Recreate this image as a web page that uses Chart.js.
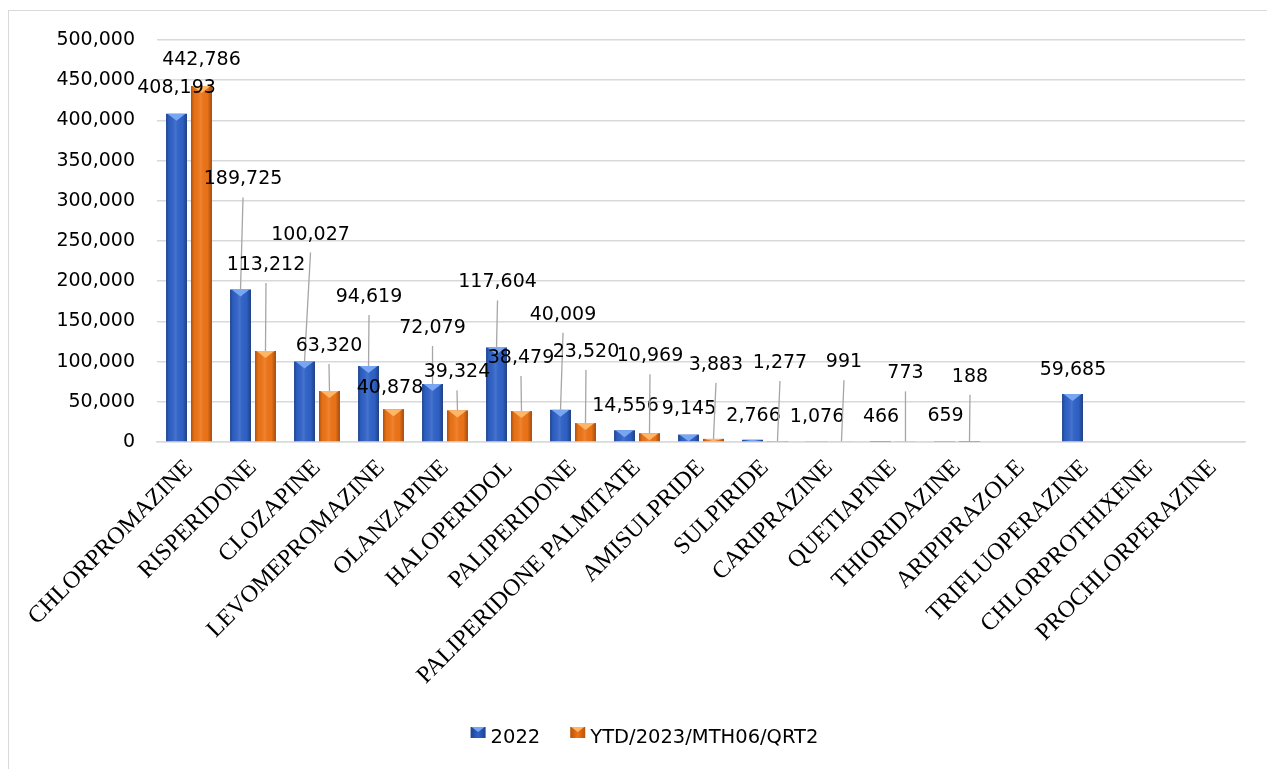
<!DOCTYPE html>
<html><head><meta charset="utf-8">
<script src="https://cdn.jsdelivr.net/npm/chart.js@4.4.1/dist/chart.umd.min.js"></script>
<style>
html,body{margin:0;padding:0;background:#fff;overflow:hidden;}
#frame{position:absolute;left:8px;top:10px;width:1270px;height:770px;border:1px solid #d9d9d9;box-sizing:border-box;}
#wrap{position:absolute;left:0;top:0;width:1267px;height:769px;}
</style></head><body>
<div id="frame"></div>
<div id="wrap"><canvas id="c" width="1267" height="769"></canvas></div>
<script>
const categories = ['CHLORPROMAZINE','RISPERIDONE','CLOZAPINE','LEVOMEPROMAZINE','OLANZAPINE','HALOPERIDOL','PALIPERIDONE','PALIPERIDONE PALMITATE','AMISULPRIDE','SULPIRIDE','CARIPRAZINE','QUETIAPINE','THIORIDAZINE','ARIPIPRAZOLE','TRIFLUOPERAZINE','CHLORPROTHIXENE','PROCHLORPERAZINE'];
const series2022 = [408193,189725,100027,94619,72079,117604,40009,14556,9145,2766,1076,466,659,null,59685,null,null];
const seriesYTD = [442786,113212,63320,40878,39324,38479,23520,10969,3883,1277,991,773,188,null,null,null,null];
const seriesNames = ['2022','YTD/2023/MTH06/QRT2'];
const yTicks = [0,50000,100000,150000,200000,250000,300000,350000,400000,450000,500000];

// label placement relative to bar top (dx, dy), Excel-style manual label positions
const labelOffset2022 = [[0,-26],[2.5,-110],[6,-127],[0.5,-69],[0,-56],[1,-65],[2.5,-95],[1,-24],[0.5,-26],[1,-24],[0.5,-24],[0.5,-25],[1,-25],null,[0.5,-24],null,null];
const labelOffsetYTD = [[0,-26],[0.5,-86],[-0.5,-45],[-3.5,-21],[-0.5,-38],[-0.5,-53],[0.5,-71],[0.5,-77],[2.5,-74],[2.5,-78],[2.5,-79],[0,-68],[0.5,-65],null,null,null,null];

const palette = [
  {base:'#2f62c8', dark:'#1c4391', light:'#78a6f2'},
  {base:'#ef7416', dark:'#b9520a', light:'#ffb667'}
];

const fmt = v => v.toLocaleString('en-US');

function drawMarker(ctx, x, y, w, h, p){
  const gr = ctx.createLinearGradient(x,0,x+w,0);
  gr.addColorStop(0,p.dark); gr.addColorStop(0.5,p.base); gr.addColorStop(1,p.dark);
  ctx.fillStyle = gr; ctx.fillRect(x,y,w,h);
  ctx.fillStyle = p.light;
  ctx.beginPath(); ctx.moveTo(x+1,y); ctx.lineTo(x+w-1,y); ctx.lineTo(x+w/2,y+5); ctx.closePath(); ctx.fill();
}

const barPlugin = {
  id: 'barDecor',
  afterDatasetsDraw(chart){
    const ctx = chart.ctx;
    chart.data.datasets.forEach((ds, di) => {
      const meta = chart.getDatasetMeta(di);
      const p = palette[di];
      meta.data.forEach((bar, i) => {
        if (ds.data[i] == null) return;
        const {x, y, base, width} = bar.getProps(['x','y','base','width'], true);
        const l = x - width/2, r = x + width/2, h = base - y;
        if (h <= 0) return;
        ctx.save();
        const gr = ctx.createLinearGradient(l,0,r,0);
        gr.addColorStop(0,'rgba(0,0,0,0.30)');
        gr.addColorStop(0.15,'rgba(0,0,0,0.04)');
        gr.addColorStop(0.45,'rgba(255,255,255,0.10)');
        gr.addColorStop(0.78,'rgba(0,0,0,0.02)');
        gr.addColorStop(1,'rgba(0,0,0,0.34)');
        ctx.fillStyle = gr;
        ctx.fillRect(l, y, width, h);
        const th = Math.min(7, h);
        ctx.fillStyle = p.light;
        ctx.beginPath();
        ctx.moveTo(l+1.5, y); ctx.lineTo(r-1.5, y); ctx.lineTo(x, y+th); ctx.closePath();
        ctx.fill();
        ctx.restore();
      });
    });
    ctx.save();
    ctx.font = '19px "DejaVu Sans"';
    ctx.textAlign = 'center';
    ctx.textBaseline = 'middle';
    [labelOffset2022, labelOffsetYTD].forEach((offs, di) => {
      const meta = chart.getDatasetMeta(di);
      const vals = chart.data.datasets[di].data;
      meta.data.forEach((bar, i) => {
        const v = vals[i];
        if (v == null || !offs[i]) return;
        const {x, y} = bar.getProps(['x','y'], true);
        const lx = x + offs[i][0], ly = y + offs[i][1];
        if (offs[i][1] < -30) {
          ctx.strokeStyle = '#a6a6a6';
          ctx.lineWidth = 1.3;
          ctx.beginPath();
          ctx.moveTo(lx, ly + 18);
          ctx.lineTo(x, y);
          ctx.stroke();
        }
        ctx.fillStyle = '#000';
        ctx.fillText(fmt(v), lx, ly);
      });
    });
    ctx.restore();
  },
  afterDraw(chart){
    // legend at the bottom
    const ctx = chart.ctx;
    ctx.save();
    ctx.font = '19.5px "DejaVu Sans"';
    ctx.textBaseline = 'middle';
    ctx.textAlign = 'left';
    const mw = 15, mh = 11, gapText = 5, gapItem = 30;
    const names = chart.data.datasets.map(d => d.label);
    const widths = names.map(n => mw + gapText + ctx.measureText(n).width);
    const total = widths.reduce((a,b)=>a+b,0) + gapItem*(names.length-1);
    const cy = 738;
    let x = chart.width/2 + 11 - total/2;
    names.forEach((n, i) => {
      drawMarker(ctx, x, cy - 11, mw, mh, palette[i]);
      ctx.fillStyle = '#000';
      ctx.fillText(n, x + mw + gapText, cy);
      x += widths[i] + gapItem;
    });
    ctx.restore();
  }
};

new Chart(document.getElementById('c'), {
  type: 'bar',
  data: {
    labels: categories,
    datasets: [
      {label: seriesNames[0], data: series2022, backgroundColor: palette[0].base, categoryPercentage: 0.78, barPercentage: 0.84},
      {label: seriesNames[1], data: seriesYTD, backgroundColor: palette[1].base, categoryPercentage: 0.78, barPercentage: 0.84}
    ]
  },
  options: {
    responsive: false,
    animation: false,
    events: [],
    layout: {padding: {top: 40, right: 22, left: 0, bottom: 0}},
    plugins: {
      tooltip: {enabled: false},
      legend: {display: false}
    },
    scales: {
      x: {
        grid: {display: false, drawTicks: false},
        border: {display: true, color: '#d9d9d9', width: 1.5},
        ticks: {
          autoSkip: false, maxRotation: 45, minRotation: 45, padding: 12,
          color: '#000', font: {family: 'Liberation Serif', size: 24}
        },
        afterFit(s){ s.height = 327; }
      },
      y: {
        min: 0, max: 500000,
        grid: {color: '#d9d9d9', lineWidth: 1.5, drawTicks: false},
        border: {display: false},
        ticks: {padding: 22, color: '#000', font: {family: 'DejaVu Sans', size: 19}, callback: v => fmt(v)},
        afterBuildTicks(s){ s.ticks = yTicks.map(v => ({value: v})); },
        afterFit(s){ s.width = 157; }
      }
    }
  },
  plugins: [barPlugin]
});
</script>
</body></html>
